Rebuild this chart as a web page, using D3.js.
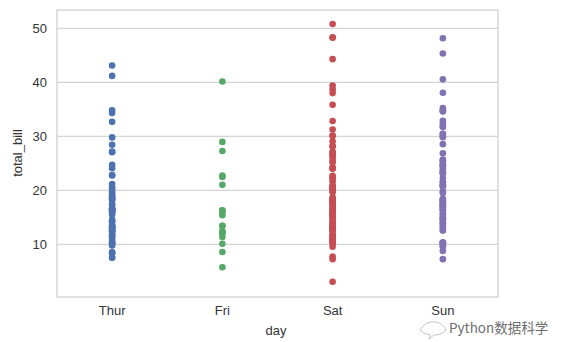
<!DOCTYPE html>
<html><head><meta charset="utf-8">
<script src="https://cdn.jsdelivr.net/npm/d3@7"></script>
<style>body{margin:0;background:#fff}svg{display:block}</style>
</head><body>
<svg id="c" width="571" height="342"></svg>
<script>
const days = ["Thur","Fri","Sat","Sun"];
const colors = ["#4C72B0","#55A868","#C44E52","#8172B2"];
const yTicks = [10,20,30,40,50];
const thur = [27.20,22.76,17.29,19.44,16.66,10.07,32.68,15.98,34.83,13.03,18.28,24.71,21.16,10.65,12.43,24.08,11.69,13.42,14.26,15.95,12.48,29.80,8.52,14.52,11.38,22.82,19.08,20.27,11.17,12.26,18.26,8.51,10.33,14.15,16.00,13.16,17.47,34.30,41.19,27.05,16.43,8.35,18.64,11.87,9.78,7.51,19.81,28.44,15.48,16.58,7.56,10.34,43.11,13.00,13.51,18.71,12.74,13.00,16.40,20.53,16.47,18.78];
const fri = [28.97,22.49,5.75,16.32,22.75,40.17,27.28,12.03,21.01,12.46,11.35,15.38,12.16,13.42,8.58,15.98,13.42,16.27,10.09];
const sat = [20.65,17.92,20.29,15.77,39.42,19.82,17.81,13.37,12.69,21.70,19.65,9.55,18.35,15.06,20.69,17.78,24.06,16.31,16.93,18.69,31.27,16.04,38.01,26.41,11.24,48.27,20.29,13.81,11.02,18.29,17.59,20.08,16.45,3.07,20.23,15.01,12.02,17.07,26.86,25.28,14.73,10.51,17.92,44.30,22.42,20.92,15.36,20.49,25.21,18.24,14.31,14.00,7.25,10.59,10.63,50.81,15.81,26.59,38.73,24.27,12.76,30.06,25.89,48.33,13.27,28.17,12.90,28.15,11.59,7.74,30.14,20.45,13.28,22.12,24.01,15.69,11.61,10.77,15.53,10.07,12.60,32.83,35.83,29.03,27.18,22.67,17.82];
const sun = [16.99,10.34,21.01,23.68,24.59,25.29,8.77,26.88,15.04,14.78,10.27,35.26,15.42,18.43,14.83,21.58,10.33,16.29,16.97,17.46,13.94,9.68,30.40,18.29,22.23,32.40,28.55,18.04,12.54,10.29,34.81,9.94,25.56,19.49,38.07,23.95,25.71,17.31,29.93,14.07,13.13,17.26,24.55,19.77,29.85,48.17,25.00,13.39,16.49,21.50,12.66,16.21,13.81,17.51,24.52,20.76,31.71,7.25,31.85,16.82,32.90,17.89,14.48,9.60,34.63,34.65,23.33,45.35,23.17,40.55,20.69,20.90,30.46,18.15,23.10,15.69];
const series = [thur, fri, sat, sun];

const svg = d3.select("#c");
const L = 57, R = 498, T = 10, B = 297;
const x = d3.scaleBand().domain(days).range([L, R]).padding(0);
const y = d3.scaleLinear().domain([0.24, 53.4]).range([B, T]);
const font = "'Liberation Sans', Arial, sans-serif";

svg.append("g").selectAll("line").data(yTicks).join("line")
  .attr("x1", L).attr("x2", R)
  .attr("y1", d => y(d)).attr("y2", d => y(d))
  .attr("stroke", "#d4d4d4").attr("stroke-width", 1.2);

svg.append("rect").attr("x", L).attr("y", T).attr("width", R - L).attr("height", B - T)
  .attr("fill", "none").attr("stroke", "#d9d9d9").attr("stroke-width", 1.6);

const ya = svg.append("g").attr("transform", `translate(${L},0)`)
  .call(d3.axisLeft(y).tickValues(yTicks).tickSize(0).tickPadding(10));
ya.select(".domain").remove();
ya.selectAll("text").attr("font-family", font).attr("font-size", 13).attr("fill", "#333");

const xa = svg.append("g").attr("transform", `translate(0,${B})`)
  .call(d3.axisBottom(x).tickSize(0).tickPadding(9));
xa.select(".domain").remove();
xa.selectAll("text").attr("font-family", font).attr("font-size", 13).attr("fill", "#333");

series.forEach((vals, i) => {
  svg.append("g").selectAll("circle").data(vals).join("circle")
    .attr("cx", x(days[i]) + x.bandwidth() / 2)
    .attr("cy", d => y(d))
    .attr("r", 3.3)
    .attr("fill", colors[i]);
});

svg.append("text").attr("x", 276).attr("y", 335).attr("text-anchor", "middle")
  .attr("font-family", font).attr("font-size", 13).attr("fill", "#333").text("day");
svg.append("text").attr("transform", "translate(22,153) rotate(-90)").attr("text-anchor", "middle")
  .attr("font-family", font).attr("font-size", 13).attr("fill", "#333").text("total_bill");

// watermark (moved slightly down so it does not cover the "Sun" label)
const wm = svg.append("g").attr("opacity", 0.85);
wm.append("path").attr("d", "M420,330 q6,-10 16,-8 q8,2 10,8 q-4,5 -12,5 l-5,4 l1,-4 q-7,-1 -10,-5 z")
  .attr("fill", "none").attr("stroke", "#aaa").attr("stroke-width", 0.8);
wm.append("text").attr("x", 449).attr("y", 333)
  .attr("font-family", "'Noto Sans CJK SC', 'DejaVu Sans', sans-serif").attr("font-size", 13.5)
  .attr("fill", "#555").attr("stroke", "#fff").attr("stroke-width", 2).attr("paint-order", "stroke")
  .text("Python数据科学");
</script>
</body></html>
